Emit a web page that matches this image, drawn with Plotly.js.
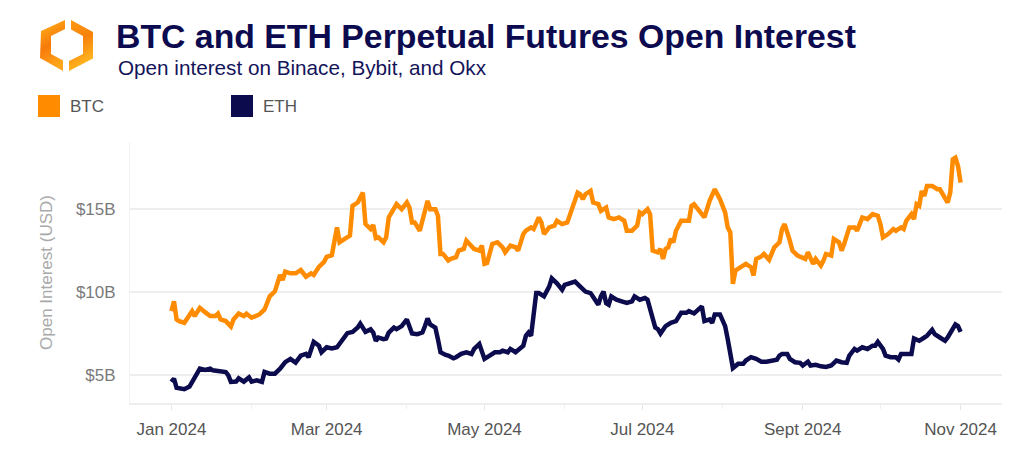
<!DOCTYPE html>
<html>
<head>
<meta charset="utf-8">
<script src="https://cdn.plot.ly/plotly-3.0.1.min.js"></script>
<style>
  html, body { margin: 0; padding: 0; background: #ffffff; }
  #chart { width: 1024px; height: 473px; }
</style>
</head>
<body>
<div id="chart"></div>
<script>
// ---------------- DATA ----------------
const seriesNames = ['BTC', 'ETH'];
const seriesColors = ['#FF8C00', '#0B0B4E'];

const tickDates = ['2024-01-01', '2024-03-01', '2024-05-01', '2024-07-01', '2024-09-01', '2024-11-01'];
const tickLabels = ['Jan 2024', 'Mar 2024', 'May 2024', 'Jul 2024', 'Sept 2024', 'Nov 2024'];
const minorTickDates = ['2024-02-01', '2024-04-01', '2024-06-01', '2024-08-01', '2024-10-01'];

const yTickValues = [5, 10, 15];
const yTickLabels = ['$5B', '$10B', '$15B'];

// BTC open interest, billions USD
const btcDates = ['2024-01-01','2024-01-02','2024-01-03','2024-01-04','2024-01-06','2024-01-07','2024-01-09','2024-01-10','2024-01-12','2024-01-14','2024-01-16','2024-01-18','2024-01-19','2024-01-20','2024-01-22','2024-01-24','2024-01-25','2024-01-27','2024-01-29','2024-01-30','2024-02-01','2024-02-04','2024-02-06','2024-02-08','2024-02-10','2024-02-12','2024-02-13','2024-02-14','2024-02-16','2024-02-18','2024-02-20','2024-02-22','2024-02-24','2024-02-25','2024-02-27','2024-02-29','2024-03-01','2024-03-03','2024-03-05','2024-03-06','2024-03-08','2024-03-10','2024-03-11','2024-03-13','2024-03-15','2024-03-16','2024-03-18','2024-03-19','2024-03-20','2024-03-21','2024-03-23','2024-03-24','2024-03-25','2024-03-27','2024-03-28','2024-03-30','2024-04-01','2024-04-02','2024-04-03','2024-04-04','2024-04-06','2024-04-07','2024-04-09','2024-04-10','2024-04-12','2024-04-13','2024-04-14','2024-04-15','2024-04-17','2024-04-18','2024-04-20','2024-04-21','2024-04-23','2024-04-24','2024-04-26','2024-04-27','2024-04-29','2024-04-30','2024-05-01','2024-05-02','2024-05-04','2024-05-06','2024-05-08','2024-05-09','2024-05-11','2024-05-13','2024-05-14','2024-05-16','2024-05-17','2024-05-19','2024-05-20','2024-05-22','2024-05-23','2024-05-24','2024-05-26','2024-05-28','2024-05-29','2024-05-31','2024-06-02','2024-06-04','2024-06-06','2024-06-07','2024-06-08','2024-06-09','2024-06-11','2024-06-12','2024-06-14','2024-06-15','2024-06-17','2024-06-18','2024-06-20','2024-06-22','2024-06-24','2024-06-25','2024-06-27','2024-06-29','2024-06-30','2024-07-01','2024-07-03','2024-07-04','2024-07-05','2024-07-07','2024-07-08','2024-07-09','2024-07-10','2024-07-11','2024-07-12','2024-07-13','2024-07-14','2024-07-16','2024-07-17','2024-07-19','2024-07-20','2024-07-21','2024-07-23','2024-07-25','2024-07-27','2024-07-28','2024-07-29','2024-07-31','2024-08-01','2024-08-02','2024-08-03','2024-08-04','2024-08-05','2024-08-06','2024-08-08','2024-08-10','2024-08-12','2024-08-13','2024-08-14','2024-08-16','2024-08-17','2024-08-18','2024-08-19','2024-08-21','2024-08-22','2024-08-23','2024-08-24','2024-08-25','2024-08-27','2024-08-28','2024-08-30','2024-09-01','2024-09-02','2024-09-03','2024-09-05','2024-09-06','2024-09-08','2024-09-09','2024-09-10','2024-09-12','2024-09-13','2024-09-15','2024-09-16','2024-09-17','2024-09-19','2024-09-21','2024-09-22','2024-09-23','2024-09-24','2024-09-26','2024-09-28','2024-09-30','2024-10-01','2024-10-02','2024-10-04','2024-10-06','2024-10-07','2024-10-09','2024-10-10','2024-10-11','2024-10-13','2024-10-14','2024-10-15','2024-10-16','2024-10-17','2024-10-18','2024-10-19','2024-10-21','2024-10-23','2024-10-24','2024-10-26','2024-10-27','2024-10-28','2024-10-29','2024-10-30','2024-10-31','2024-11-01'];
const btcValues = [8.85,9.44,8.35,8.25,8.15,8.35,8.85,8.55,9.05,8.79,8.55,8.55,8.7,8.35,8.25,7.92,8.35,8.7,8.55,8.7,8.45,8.65,8.95,9.74,10.04,11.03,10.73,11.23,11.13,11.13,11.33,10.93,11.13,11.03,11.52,11.82,12.12,12.22,13.9,13.01,13.21,13.41,15.2,15.4,16.0,14.1,13.8,14.05,13.25,13.3,13.0,13.3,14.5,15.0,15.3,15.0,15.4,15.1,14.2,14.2,13.7,14.3,15.5,15.0,15.0,14.6,12.3,12.3,11.9,12.0,12.1,12.5,12.6,13.1,12.7,12.6,12.5,12.8,11.7,11.75,12.9,13.0,12.7,12.4,12.8,12.7,12.5,13.5,13.7,13.9,13.8,14.5,14.2,13.5,13.9,14.0,14.3,14.1,14.2,15.1,16.0,15.9,15.6,15.9,16.1,15.4,15.3,14.9,15.1,14.5,14.4,14.5,14.3,13.7,13.7,14.0,14.8,14.7,15.0,14.7,12.5,12.4,12.6,12.0,12.6,12.7,13.2,13.0,13.7,14.3,14.3,14.3,15.2,15.3,14.9,14.5,15.5,15.9,16.2,15.6,15.2,14.8,13.9,13.6,10.5,11.3,11.5,11.7,11.5,11.0,12.0,12.15,12.3,12.15,11.95,12.7,12.9,13.0,13.8,14.1,13.1,12.5,12.2,12.1,12.0,12.4,11.7,12.0,11.6,11.9,12.3,12.2,13.2,13.0,12.5,12.9,13.9,13.9,13.7,14.1,14.5,14.4,14.7,14.6,14.1,13.3,13.5,13.8,13.7,13.9,13.8,14.3,14.7,14.4,15.3,15.2,16.1,15.8,16.4,16.4,16.2,16.2,15.6,15.4,16.0,18.0,18.1,17.6,16.6];

// ETH open interest, billions USD
const ethDates = ['2024-01-01','2024-01-02','2024-01-03','2024-01-06','2024-01-08','2024-01-09','2024-01-11','2024-01-12','2024-01-14','2024-01-16','2024-01-17','2024-01-20','2024-01-22','2024-01-23','2024-01-24','2024-01-26','2024-01-27','2024-01-29','2024-01-31','2024-02-01','2024-02-03','2024-02-05','2024-02-06','2024-02-08','2024-02-10','2024-02-12','2024-02-14','2024-02-16','2024-02-18','2024-02-20','2024-02-22','2024-02-23','2024-02-25','2024-02-27','2024-02-28','2024-03-01','2024-03-03','2024-03-05','2024-03-07','2024-03-09','2024-03-11','2024-03-13','2024-03-14','2024-03-16','2024-03-18','2024-03-19','2024-03-20','2024-03-21','2024-03-23','2024-03-24','2024-03-25','2024-03-27','2024-03-28','2024-03-30','2024-04-01','2024-04-02','2024-04-03','2024-04-05','2024-04-07','2024-04-08','2024-04-09','2024-04-10','2024-04-12','2024-04-13','2024-04-14','2024-04-16','2024-04-17','2024-04-19','2024-04-20','2024-04-22','2024-04-24','2024-04-26','2024-04-27','2024-04-29','2024-04-30','2024-05-01','2024-05-03','2024-05-05','2024-05-07','2024-05-08','2024-05-10','2024-05-11','2024-05-13','2024-05-14','2024-05-16','2024-05-17','2024-05-18','2024-05-19','2024-05-20','2024-05-21','2024-05-22','2024-05-24','2024-05-26','2024-05-27','2024-05-29','2024-05-31','2024-06-01','2024-06-03','2024-06-05','2024-06-07','2024-06-09','2024-06-11','2024-06-13','2024-06-14','2024-06-15','2024-06-16','2024-06-17','2024-06-18','2024-06-19','2024-06-21','2024-06-23','2024-06-25','2024-06-27','2024-06-28','2024-06-30','2024-07-02','2024-07-03','2024-07-05','2024-07-06','2024-07-07','2024-07-08','2024-07-10','2024-07-12','2024-07-14','2024-07-16','2024-07-18','2024-07-19','2024-07-21','2024-07-23','2024-07-24','2024-07-25','2024-07-27','2024-07-28','2024-07-29','2024-07-31','2024-08-01','2024-08-02','2024-08-03','2024-08-04','2024-08-05','2024-08-07','2024-08-09','2024-08-10','2024-08-12','2024-08-14','2024-08-16','2024-08-18','2024-08-20','2024-08-22','2024-08-23','2024-08-24','2024-08-26','2024-08-27','2024-08-29','2024-08-31','2024-09-01','2024-09-03','2024-09-04','2024-09-06','2024-09-08','2024-09-10','2024-09-12','2024-09-14','2024-09-16','2024-09-18','2024-09-19','2024-09-21','2024-09-22','2024-09-24','2024-09-26','2024-09-28','2024-09-29','2024-09-30','2024-10-02','2024-10-03','2024-10-05','2024-10-07','2024-10-08','2024-10-09','2024-10-10','2024-10-12','2024-10-13','2024-10-14','2024-10-16','2024-10-18','2024-10-19','2024-10-21','2024-10-22','2024-10-24','2024-10-26','2024-10-27','2024-10-29','2024-10-30','2024-10-31','2024-11-01'];
const ethValues = [4.58,4.78,4.23,4.14,4.3,4.58,5.18,5.38,5.3,5.38,5.28,5.18,5.18,4.98,4.58,4.6,4.8,4.6,4.85,4.6,4.68,4.58,5.18,5.08,5.08,5.38,5.77,5.97,5.75,6.17,6.27,6.07,7.0,6.77,6.37,6.67,6.6,6.67,7.06,7.52,7.6,7.86,8.1,7.6,7.75,7.56,7.06,7.26,7.16,7.2,7.56,7.86,7.76,7.95,8.35,7.95,7.5,7.46,7.56,7.95,8.41,8.05,7.86,7.16,6.37,6.21,6.17,6.01,6.07,6.27,6.37,6.27,6.57,6.87,6.47,5.97,6.17,6.37,6.37,6.47,6.37,6.57,6.37,6.53,6.77,7.36,7.56,7.36,8.95,9.94,9.94,9.74,10.33,10.83,10.53,10.14,10.43,10.53,10.63,10.33,10.03,9.94,9.44,9.24,9.74,10.03,9.34,9.24,9.74,9.54,9.44,9.34,9.44,9.74,9.54,9.64,9.54,8.55,7.86,7.76,7.5,7.95,8.15,8.25,8.75,8.75,8.85,8.71,8.95,9.14,8.25,8.35,8.15,8.65,8.65,8.35,7.95,7.16,6.17,5.42,5.67,5.67,5.87,6.07,5.97,5.8,5.8,5.87,5.92,6.17,6.27,6.27,5.97,5.77,5.73,5.57,5.8,5.57,5.61,5.52,5.48,5.57,5.87,5.77,5.73,6.17,6.57,6.47,6.67,6.57,6.77,6.77,7.0,6.57,6.17,6.07,6.07,5.93,6.27,6.27,6.27,6.27,7.2,7.06,7.26,7.36,7.72,7.46,7.26,7.06,7.26,7.76,8.05,7.95,7.6];

const titleText = 'BTC and ETH Perpetual Futures Open Interest';
const subtitleText = 'Open interest on Binace, Bybit, and Okx';
const yTitleText = 'Open Interest (USD)';

// ---------------- LAYOUT HELPERS ----------------
const W = 1024, H = 473;
const M = { l: 130, r: 22, t: 142, b: 70 };
const plotW = W - M.l - M.r, plotH = H - M.t - M.b;
const px = x => (x - M.l) / plotW;          // pixel x -> paper x
const py = y => (H - M.b - y) / plotH;      // pixel y -> paper y
const FONT = '"Liberation Sans", Arial, Helvetica, sans-serif';

// Logo as inline SVG
const logoSvg =
  '<svg xmlns="http://www.w3.org/2000/svg" width="60" height="60" viewBox="36 15 60 60">' +
  '<defs>' +
  '<linearGradient id="gl" x1="0" y1="0" x2="0.3" y2="1"><stop offset="0" stop-color="#FFB81C"/><stop offset="0.55" stop-color="#F77A0A"/><stop offset="1" stop-color="#FFA51A"/></linearGradient>' +
  '<linearGradient id="gr" x1="0" y1="0" x2="0.3" y2="1"><stop offset="0" stop-color="#FF9A12"/><stop offset="0.5" stop-color="#F7820C"/><stop offset="1" stop-color="#FFB820"/></linearGradient>' +
  '</defs>' +
  '<polygon fill="url(#gl)" points="65,20 41,31 40,58 63,71 63,60.5 51,54 51,36 65,29"/>' +
  '<polygon fill="url(#gr)" points="69,71 93,58.5 93,32 71,20 71,29.5 83,36 83,54 69,61"/>' +
  '</svg>';
const logoUri = 'data:image/svg+xml;charset=utf-8,' + encodeURIComponent(logoSvg);

// ---------------- TRACES ----------------
const traces = [
  { x: btcDates, y: btcValues, name: seriesNames[0], type: 'scatter', mode: 'lines',
    line: { color: seriesColors[0], width: 4.5 }, showlegend: false, hoverinfo: 'skip' },
  { x: ethDates, y: ethValues, name: seriesNames[1], type: 'scatter', mode: 'lines',
    line: { color: seriesColors[1], width: 4.5 }, showlegend: false, hoverinfo: 'skip' }
];

// custom legend (squares + labels)
const legendX = [38, 231];
const shapes = [];
const annotations = [];
seriesNames.forEach((name, i) => {
  shapes.push({ type: 'rect', xref: 'paper', yref: 'paper',
    x0: px(legendX[i]), x1: px(legendX[i] + 22), y0: py(117), y1: py(95),
    fillcolor: seriesColors[i], line: { width: 0 } });
  annotations.push({ xref: 'paper', yref: 'paper', x: px(legendX[i] + 30), y: py(106.5),
    xanchor: 'left', yanchor: 'middle', showarrow: false, text: name,
    font: { family: FONT, size: 17, color: '#555555' } });
});
annotations.push({ xref: 'paper', yref: 'paper', x: px(116), y: py(67),
  xanchor: 'left', yanchor: 'middle', showarrow: false, text: subtitleText,
  font: { family: FONT, size: 20.7, color: '#14145A' } });

const layout = {
  width: W, height: H,
  margin: M,
  paper_bgcolor: '#ffffff',
  plot_bgcolor: '#ffffff',
  font: { family: FONT },
  showlegend: false,
  title: {
    text: '<b>' + titleText + '</b>',
    xref: 'container', yref: 'container',
    x: 116 / W, xanchor: 'left',
    y: 1 - 36 / H, yanchor: 'middle',
    font: { family: FONT, size: 33.8, color: '#0D0B4F' }
  },
  xaxis: {
    type: 'date',
    range: ['2023-12-16', '2024-11-17'],
    tickmode: 'array', tickvals: tickDates, ticktext: tickLabels,
    ticks: 'outside', ticklen: 5, tickcolor: '#E6E6E6', tickwidth: 1,
    minor: { tickmode: 'array', tickvals: minorTickDates, ticks: 'outside', ticklen: 4, tickcolor: '#EFEFEF', showgrid: false },
    showgrid: false, zeroline: false,
    showline: true, linecolor: '#EEEEEE', linewidth: 1.5,
    tickfont: { family: FONT, size: 17, color: '#555555' },
    ticklabelstandoff: 5,
    automargin: false, fixedrange: true
  },
  yaxis: {
    range: [3.31, 19.05],
    tickmode: 'array', tickvals: yTickValues, ticktext: yTickLabels,
    ticks: '', showgrid: true, gridcolor: '#EEEEEE', gridwidth: 1.5,
    zeroline: false, showline: true, linecolor: '#F2F2F2', linewidth: 1,
    tickfont: { family: FONT, size: 17, color: '#7A7A7A' },
    ticklabelstandoff: 10,
    title: { text: yTitleText, font: { family: FONT, size: 17, color: '#AAAAAA' }, standoff: 18 },
    automargin: false, fixedrange: true
  },
  shapes: shapes,
  annotations: annotations,
  images: [{
    source: logoUri, xref: 'paper', yref: 'paper',
    x: px(36), y: py(15), sizex: 60 / plotW, sizey: 60 / plotH,
    xanchor: 'left', yanchor: 'top', sizing: 'stretch', layer: 'above'
  }]
};

Plotly.newPlot('chart', traces, layout, { displayModeBar: false, staticPlot: true });
</script>
</body>
</html>
